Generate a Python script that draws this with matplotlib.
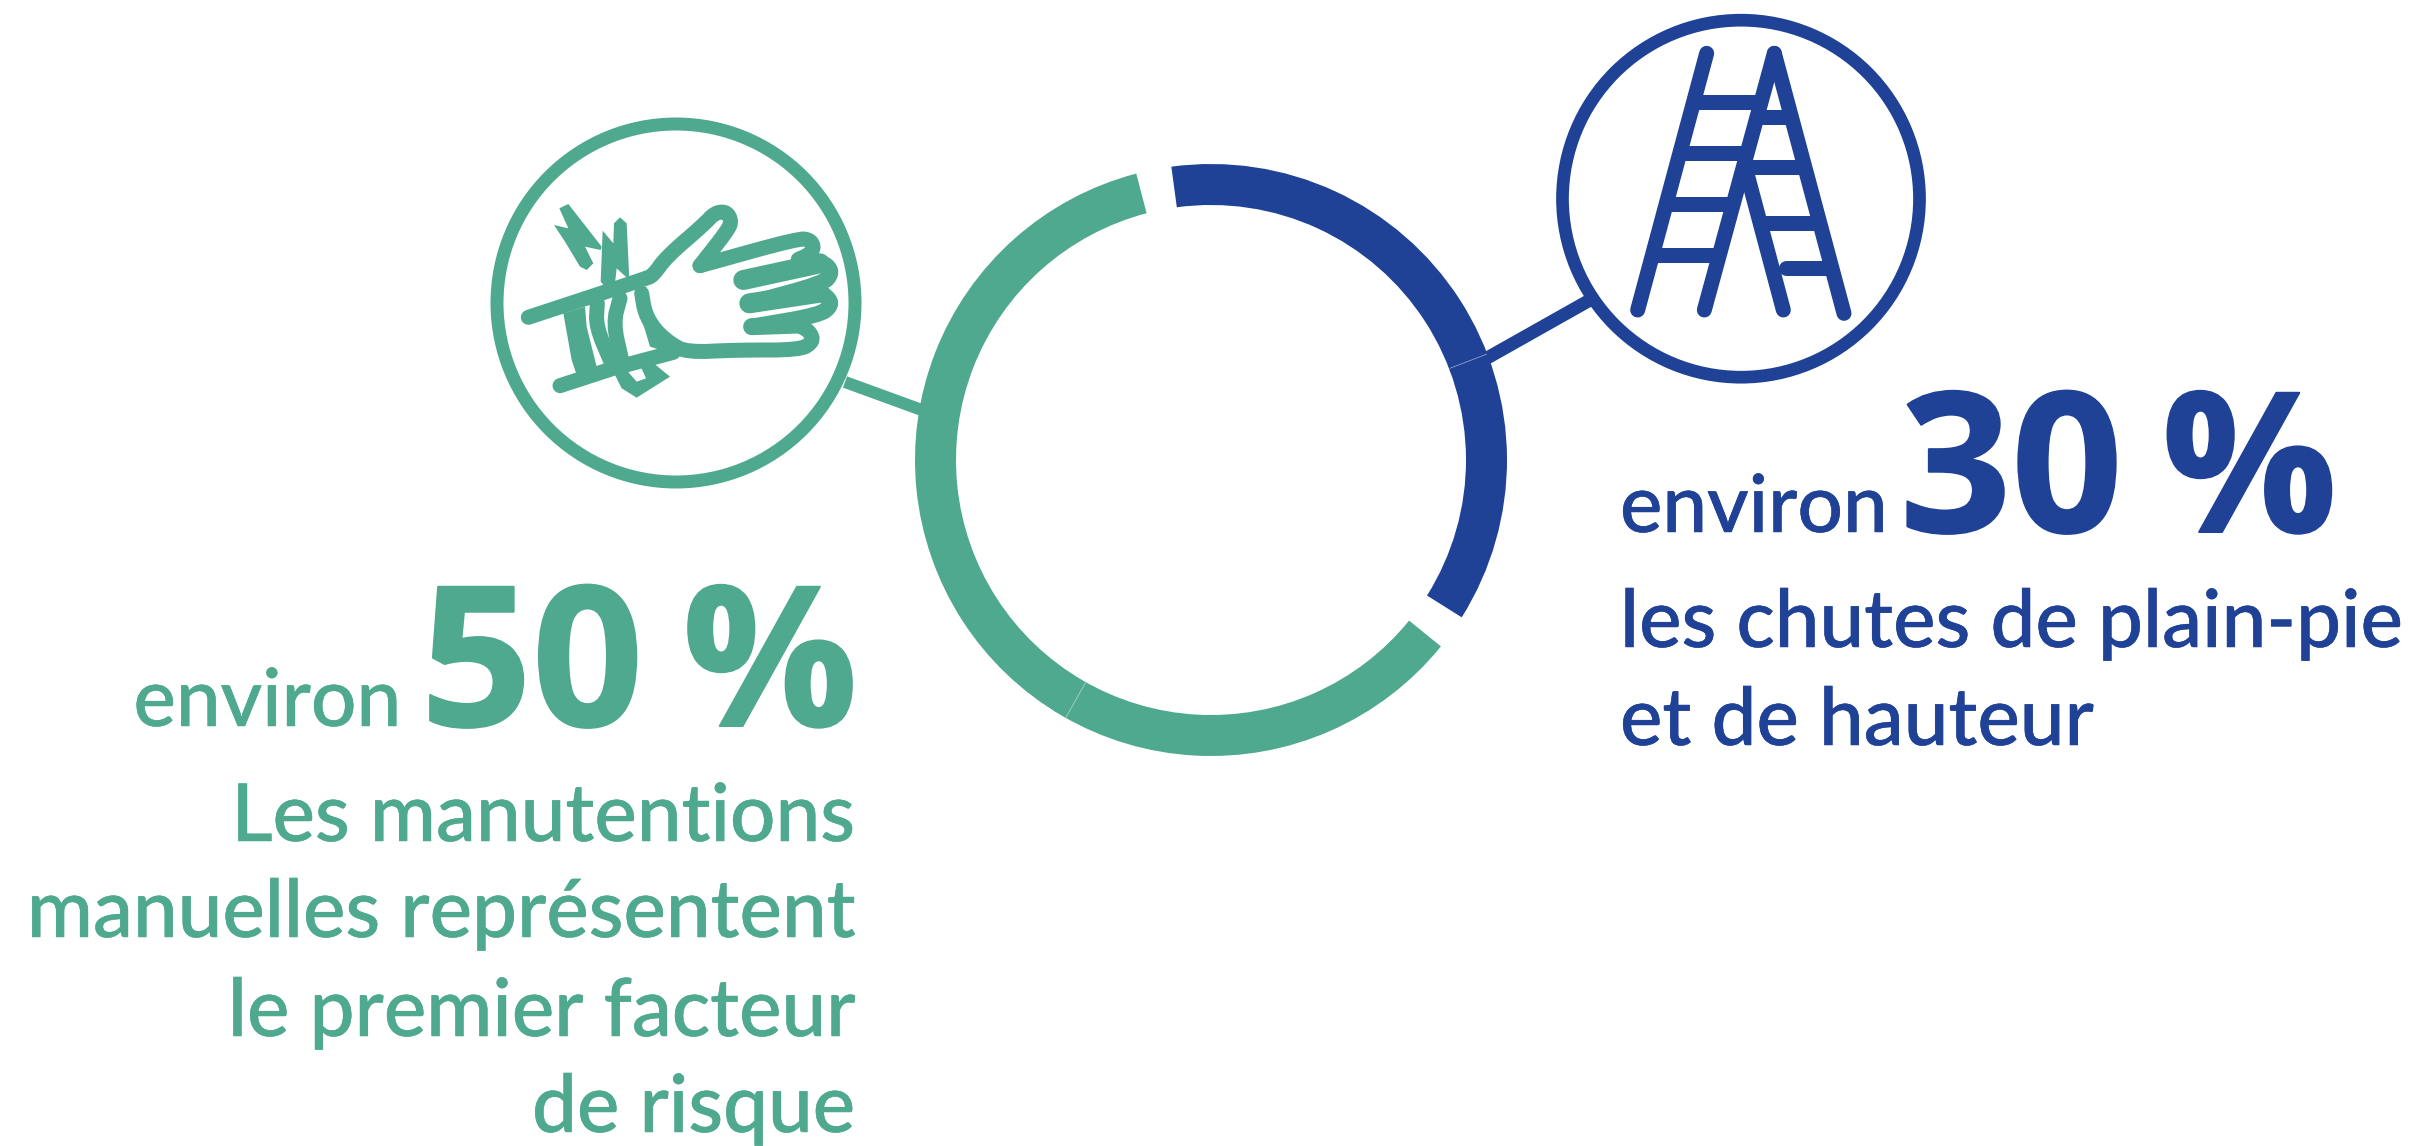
import matplotlib
matplotlib.use('Agg')
import matplotlib.pyplot as plt
import matplotlib.patheffects as pe
from matplotlib.patches import Circle, Polygon, Rectangle
import numpy as np

W, H = 2423, 1146
GREEN = '#4FA98F'
BLUE = '#1F4196'

# parts of the ring
categories = ['chutes', 'manutentions']
shares = [30, 50]
colors = [BLUE, GREEN]
gap = 1.6
start_angle = 97.7

pct_labels = ['30\u202f%', '50\u202f%']
prefix = 'environ'
right_lines = ['les chutes de plain-pie', 'et de hauteur']
left_lines = ['Les manutentions', 'manuelles représentent', 'le premier facteur', 'de risque']

plt.rcParams['font.family'] = ['Lato', 'DejaVu Sans']
BIG_FONT = ['Open Sans', 'DejaVu Sans']

fig = plt.figure(figsize=(W / 100, H / 100), dpi=100)
ax = fig.add_axes([0, 0, 1, 1])


def Y(y):
    return H - y


def px(n):
    return n * 0.72


def rounded(pts, n=2):
    # corner cutting, keeps both end points
    for _ in range(n):
        q = [pts[0]]
        for a, b in zip(pts[:-1], pts[1:]):
            q.append(0.75 * a + 0.25 * b)
            q.append(0.25 * a + 0.75 * b)
        q.append(pts[-1])
        pts = np.array(q)
    return pts


# ring, one blank wedge after each part
sizes = [shares[0], gap, shares[1], gap]
wedges, _ = ax.pie(sizes, colors=[colors[0], 'none', colors[1], 'none'],
                   startangle=start_angle, counterclock=False,
                   center=(1211, Y(460)), radius=296, frame=True,
                   wedgeprops=dict(width=41, linewidth=0))
ax.set_xlim(0, W)
ax.set_ylim(0, H)
ax.set_aspect('equal')
ax.axis('off')


def line(points, color, width, off=(0, 0), scale=3, cap='round', z=3, smooth=False):
    pts = np.array(points, dtype=float)
    if smooth:
        pts = rounded(pts)
    x = off[0] + pts[:, 0] / scale
    y = Y(off[1] + pts[:, 1] / scale)
    ax.plot(x, y, color=color, lw=px(width), solid_capstyle=cap, solid_joinstyle='round', zorder=z)


def blob(points, color, off=(0, 0), scale=3, z=3):
    pts = np.array(points, dtype=float)
    xy = np.column_stack([off[0] + pts[:, 0] / scale, Y(off[1] + pts[:, 1] / scale)])
    ax.add_patch(Polygon(xy, closed=True, facecolor=color, edgecolor='none', zorder=z))


def heavier(t, color, width):
    t.set_path_effects([pe.withStroke(linewidth=px(width), foreground=color)])
    return t


# icon circles
ax.add_patch(Circle((676, Y(303)), 179, facecolor='white', edgecolor=GREEN, lw=px(13), zorder=2))
ax.add_patch(Circle((1741, Y(198.7)), 178.5, facecolor='white', edgecolor=BLUE, lw=px(12.7), zorder=2))

# connectors between the ring and the circles
line([(845, 382), (930, 413)], GREEN, 12, scale=1, cap='butt', z=1)
line([(1480, 362), (1590, 300)], BLUE, 13, scale=1, cap='butt', z=1)

# ladder
lad = (1540, 0)
for seg in [[(500, 160), (293, 930)], [(703, 160), (493, 930)], [(703, 160), (912, 940)],
            [(618, 510), (730, 930)],
            [(470, 305), (660, 305)], [(430, 460), (615, 460)], [(390, 612), (570, 612)],
            [(350, 765), (530, 765)], [(670, 350), (745, 350)], [(625, 500), (790, 500)],
            [(670, 668), (835, 668)], [(738, 805), (870, 805)]]:
    line(seg, BLUE, 15, off=lad)

# hand
hand = (470, 100)
line([(175, 652), (530, 535), (550, 525), (590, 470), (700, 375), (735, 338), (770, 335), (785, 365),
      (770, 395), (690, 497)], GREEN, 15, off=hand, smooth=True)
line([(690, 497), (985, 415), (1022, 420), (1032, 445), (1015, 465), (985, 478)], GREEN, 15, off=hand, smooth=True)
line([(820, 540), (1050, 490)], GREEN, 20, off=hand)
line([(1040, 485), (1072, 495), (1085, 520), (1060, 550), (838, 610)], GREEN, 16, off=hand, smooth=True)
line([(838, 610), (1050, 578)], GREEN, 20, off=hand)
line([(1040, 575), (1072, 590), (1085, 615), (1050, 645), (845, 680)], GREEN, 16, off=hand, smooth=True)
line([(845, 680), (985, 675)], GREEN, 17, off=hand)
line([(985, 675), (1020, 695), (1030, 725), (990, 750), (800, 750), (650, 757), (600, 730),
      (555, 690), (525, 640), (515, 580)], GREEN, 15, off=hand, smooth=True)
blob([(530, 560), (510, 570), (510, 640), (540, 740), (620, 765), (640, 735), (570, 690), (535, 630)], GREEN, off=hand)
# bandage
line([(270, 857), (430, 805), (610, 757)], GREEN, 15, off=hand)
blob([(280, 640), (345, 620), (350, 680), (380, 800), (320, 825), (305, 780)], GREEN, off=hand)
line([(382, 610), (378, 680), (425, 790)], GREEN, 15, off=hand, smooth=True)
line([(450, 595), (430, 670), (455, 780)], GREEN, 15, off=hand, smooth=True)
blob([(430, 815), (465, 805), (500, 845), (528, 835), (510, 795), (545, 785), (600, 830), (500, 893), (455, 865)], GREEN, off=hand)
# bolts
blob([(268, 325), (295, 312), (395, 440), (392, 450), (345, 440), (370, 490), (350, 510), (330, 500),
      (285, 425), (252, 375), (295, 385)], GREEN, off=hand)
blob([(398, 392), (430, 430), (432, 370), (450, 352), (470, 370), (478, 540), (440, 505), (435, 550),
      (405, 560), (392, 545)], GREEN, off=hand)

# faint seams in the ring
for ang, col in [(69, '#8FA3CF'), (209.4, '#A5D3C5')]:
    t = np.deg2rad(ang)
    ax.plot([1211 + 256 * np.sin(t), 1211 + 295 * np.sin(t)],
            [Y(460) + 256 * np.cos(t), Y(460) + 295 * np.cos(t)], color=col, lw=0.6, zorder=3)

# left block of text
heavier(ax.text(401, Y(726), prefix, color=GREEN, fontsize=px(80), fontweight='medium', ha='right', va='baseline'), GREEN, 0.5)
heavier(ax.text(858, Y(726), pct_labels[1], color=GREEN, fontsize=px(195), fontweight='bold', family=BIG_FONT,
                ha='right', va='baseline'), GREEN, 2)
for s, y in zip(left_lines, [841, 937, 1036, 1132]):
    t = ax.text(855, Y(y), s, color=GREEN, fontsize=px(80), fontweight='medium', ha='right', va='baseline')
    t.set_clip_path(Rectangle((32, 0), W, H, transform=ax.transData))
    heavier(t, GREEN, 0.5)

# right block of text
heavier(ax.text(1620, Y(532), prefix, color=BLUE, fontsize=px(80), fontweight='medium', ha='left', va='baseline'), BLUE, 0.5)
heavier(ax.text(1900, Y(532), pct_labels[0], color=BLUE, fontsize=px(195), fontweight='bold', family=BIG_FONT,
                ha='left', va='baseline'), BLUE, 2)
for s, y in zip(right_lines, [647, 745]):
    heavier(ax.text(1620, Y(y), s, color=BLUE, fontsize=px(80), fontweight='medium', ha='left', va='baseline'), BLUE, 0.5)

fig.savefig('out.png', dpi=100, facecolor='white')
